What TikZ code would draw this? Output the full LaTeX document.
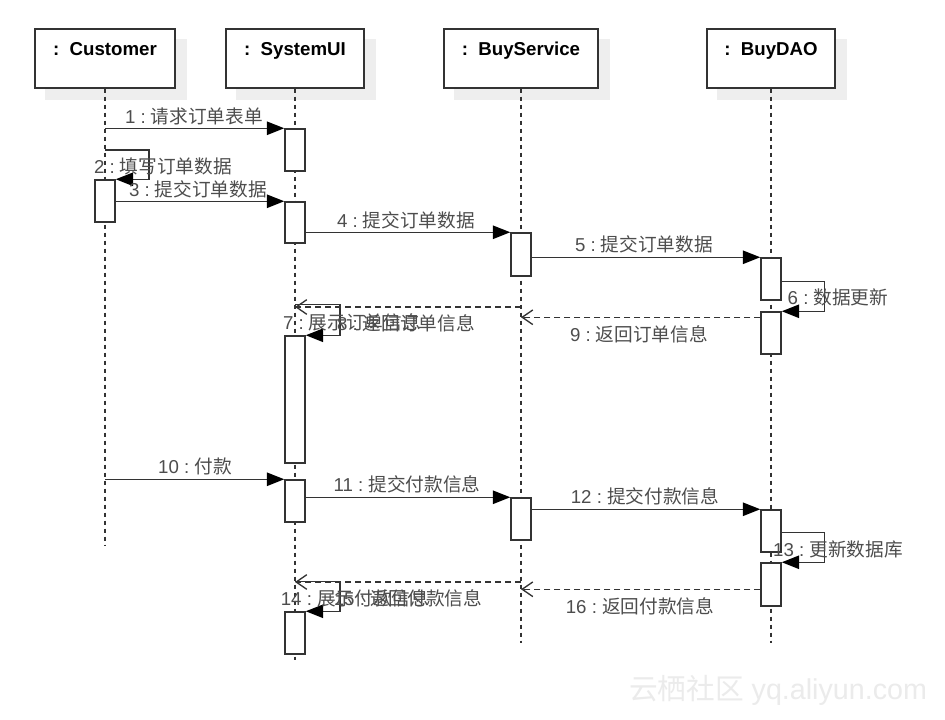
\documentclass[tikz,border=0pt]{standalone}
\usepackage{fontspec}
\setmainfont{Liberation Sans}
\newfontfamily\cjk{Noto Sans CJK SC}
\usetikzlibrary{arrows.meta,backgrounds}
\definecolor{ln}{HTML}{333333}
\definecolor{lbl}{HTML}{4D4D4D}
\definecolor{shd}{HTML}{EEEEEE}
\definecolor{wmc}{HTML}{EBEBEB}
\newcommand\mlabel[2]{#1 :\ {\cjk #2}}
\begin{document}
\begin{tikzpicture}[x=0.75pt,y=-0.75pt,
  obj/.style={draw=ln, fill=white, line width=1.1pt, minimum height=44.25pt, inner sep=0pt},
  title/.style={anchor=base, font=\bfseries\fontsize{14}{16}\selectfont, text=black, inner sep=0pt},
  act/.style={draw=ln, fill=white, line width=1.1pt, minimum width=15pt, inner sep=0pt},
  life/.style={draw=ln, line width=0.9pt, dash pattern=on 3pt off 3pt},
  msg/.style={draw=ln, line width=1.1pt, -{Triangle[length=13pt,width=10pt,fill=black,color=black]}},
  ret/.style={draw=ln, line width=1pt, dash pattern=on 4.5pt off 3pt, -{Straight Barb[length=8pt,width=11pt,line width=1pt]}},
  lab/.style={text=lbl, font=\fontsize{14}{16}\selectfont, inner sep=0pt, text height=12pt, text depth=2pt},
  wm/.style={text=wmc, font=\fontsize{21.5}{24}\selectfont, inner sep=0pt}
]
\useasboundingbox (0,0) rectangle (945,720);

% objects
\node[obj, minimum width=105pt]  (cust) at (105,58.5) {};
\node[obj, minimum width=103.5pt](sys)  at (295,58.5) {};
\node[obj, minimum width=115.5pt](svc)  at (521,58.5) {};
\node[obj, minimum width=96pt]   (dao)  at (771,58.5) {};

\begin{scope}[on background layer]
  \fill[white] (0,0) rectangle (945,720);
  \foreach \n in {cust,sys,svc,dao}
    \fill[shd] ([shift={(11,11)}]\n.south west) rectangle ([shift={(11,11)}]\n.north east);
\end{scope}

\node[title] (custT) at ([yshift=-20.25pt]cust.north) {:\ \ Customer};
\node[title] (sysT)  at ([yshift=-20.25pt]sys.north)  {:\ \ SystemUI};
\node[title] (svcT)  at ([yshift=-20.25pt]svc.north)  {:\ \ BuyService};
\node[title] (daoT)  at ([yshift=-20.25pt]dao.north)  {:\ \ BuyDAO};

% lifelines
\coordinate (custE) at (105,545);
\coordinate (sysE)  at (295,660);
\coordinate (svcE)  at (521,643);
\coordinate (daoE)  at (771,643);
\draw[life] (cust.south) -- (custE);
\draw[life] (sys.south) -- (sysE);
\draw[life] (svc.south) -- (svcE);
\draw[life] (dao.south) -- (daoE);

% activations
\node[act, minimum height=31.5pt]  (a1) at (295,150) {};
\node[act, minimum height=31.5pt]  (c1) at (105,201) {};
\node[act, minimum height=30.75pt] (a2) at (295,222.5) {};
\node[act, minimum height=32.25pt] (s1) at (521,254.5) {};
\node[act, minimum height=31.5pt]  (d1) at (771,279) {};
\node[act, minimum height=31.5pt]  (d2) at (771,333) {};
\node[act, minimum height=95.25pt] (a3) at (295,399.5) {};
\node[act, minimum height=31.5pt]  (a4) at (295,501) {};
\node[act, minimum height=31.5pt]  (s2) at (521,519) {};
\node[act, minimum height=31.5pt]  (d3) at (771,531) {};
\node[act, minimum height=32.25pt] (d4) at (771,584.5) {};
\node[act, minimum height=31.5pt]  (a5) at (295,633) {};

% messages
\draw[msg] (a1.north west -| cust.south) -- (a1.north west);
\coordinate (m2) at (105,150);
\draw[msg] (m2) -- ++(44,0) |- (c1.north east);
\draw[msg] (a2.north west -| c1.east) -- (a2.north west);
\draw[msg] (s1.north west -| a2.east) -- (s1.north west);
\draw[msg] (d1.north west -| s1.east) -- (d1.north west);
\draw[msg] ([yshift=-18pt]d1.north east) -- ++(43,0) |- (d2.north east);
\draw[msg] ([yshift=23.25pt]a3.north) -- ++(45,0) |- (a3.north east);
\coordinate (m8) at (521,307);
\draw[ret] (m8) -- (m8 -| sys.south);
\coordinate (m9) at ([yshift=-4.5pt]d2.north west);
\draw[ret] (m9) -- (m9 -| svc.south);
\draw[msg] (a4.north west -| cust.south) -- (a4.north west);
\draw[msg] (s2.north west -| a4.east) -- (s2.north west);
\draw[msg] (d3.north west -| s2.east) -- (d3.north west);
\draw[msg] ([yshift=-17.25pt]d3.north east) -- ++(43,0) |- (d4.north east);
\draw[msg] ([yshift=22.5pt]a5.north) -- ++(45,0) |- (a5.north east);
\coordinate (m15) at (521,582);
\draw[ret] (m15) -- (m15 -| sys.south);
\coordinate (m16) at ([yshift=-20.25pt]d4.north west);
\draw[ret] (m16) -- (m16 -| svc.south);

% labels
\node[lab] (l1)  at (194,117) {\mlabel{1}{请求订单表单}};
\node[lab] (l2)  at (163,167) {\mlabel{2}{填写订单数据}};
\node[lab] (l3)  at (198,190) {\mlabel{3}{提交订单数据}};
\node[lab] (l4)  at (406,221) {\mlabel{4}{提交订单数据}};
\node[lab] (l5)  at (644,245) {\mlabel{5}{提交订单数据}};
\node[lab] (l6)  at (838,298) {\mlabel{6}{数据更新}};
\node[lab] (l7)  at (352,323) {\mlabel{7}{展示订单信息}};
\node[lab] (l8)  at (406,324) {\mlabel{8}{返回订单信息}};
\node[lab] (l9)  at (639,335) {\mlabel{9}{返回订单信息}};
\node[lab] (l10) at (195,467) {\mlabel{10}{付款}};
\node[lab] (l11) at (407,485) {\mlabel{11}{提交付款信息}};
\node[lab] (l12) at (645,497) {\mlabel{12}{提交付款信息}};
\node[lab] (l13) at (838,550) {\mlabel{13}{更新数据库}};
\node[lab] (l14) at (355,599) {\mlabel{14}{展示付款信息}};
\node[lab] (l15) at (408,599) {\mlabel{15}{返回付款信息}};
\node[lab] (l16) at (640,607) {\mlabel{16}{返回付款信息}};

% watermark
\node[wm] (wmark) at (778,690) {{\cjk 云栖社区} yq.aliyun.com};
\end{tikzpicture}
\end{document}
